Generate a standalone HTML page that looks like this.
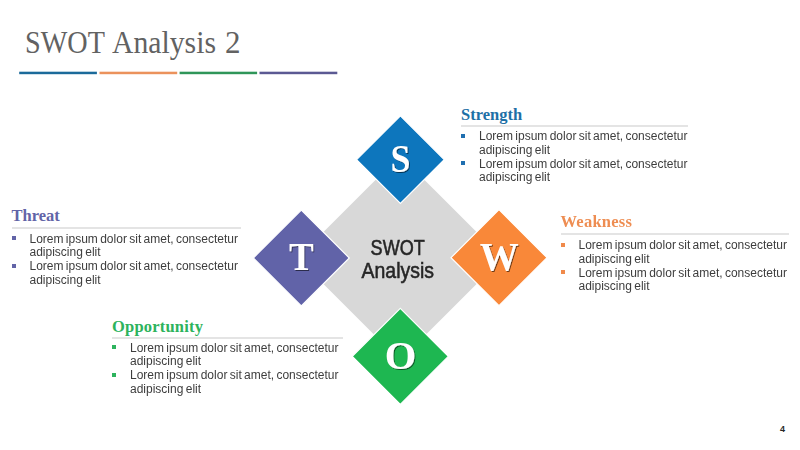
<!DOCTYPE html>
<html><head><meta charset="utf-8">
<style>
*{margin:0;padding:0;box-sizing:border-box}
html,body{width:800px;height:450px;overflow:hidden;background:#fff}
body{position:relative;font-family:"Liberation Sans",sans-serif}
.title span{position:absolute;top:23px;font-family:"Liberation Serif",serif;font-size:32px;color:#626262;white-space:nowrap;line-height:38px;transform-origin:0 0}
.bar{position:absolute;top:71.8px;height:2.4px;width:77.7px}
.blk{position:absolute;top:0;left:0}
.blk h3{position:absolute;left:0;font-family:"Liberation Serif",serif;font-weight:bold;font-size:16.5px;line-height:20px;white-space:nowrap}
.blk .rule{position:absolute;left:0;height:2px;background:#e4e4e4}
.blk ul{position:absolute;left:0;width:240px;list-style:none}
.blk li{position:relative;padding-left:18px;font-size:12px;line-height:13.8px;color:#3d3d3d;word-spacing:-1px}
.blk li:before{content:"";position:absolute;left:0;top:3.5px;width:4px;height:4px;background:var(--c)}
svg{position:absolute;left:0;top:0}
.num{position:absolute;left:780px;top:423.5px;font-size:9px;font-weight:bold;color:#262626}
</style></head><body>
<div class="title"><span style="left:24.8px;transform:scaleX(0.881)">SWOT</span><span style="left:112.2px;transform:scaleX(0.928)">Analysis</span><span style="left:225px;transform:scaleX(0.97)">2</span></div>
<svg width="800" height="80" viewBox="0 0 800 80" style="position:absolute;left:0;top:0">
<rect x="19.2" y="71.7" width="77.7" height="2.5" fill="#1B6A9A"/>
<rect x="99.5" y="71.7" width="77.7" height="2.5" fill="#EB925C"/>
<rect x="179.6" y="71.7" width="77.5" height="2.5" fill="#2F9659"/>
<rect x="259.5" y="71.7" width="77.8" height="2.5" fill="#5B5993"/>
</svg>

<svg width="800" height="450" viewBox="0 0 800 450">
  <defs>
    <filter id="sh" x="-30%" y="-30%" width="160%" height="160%">
      <feDropShadow dx="1" dy="1" stdDeviation="0.6" flood-color="#000" flood-opacity="0.55"/>
    </filter>
  </defs>
  <polygon points="400,155.40 502.60,258 400,360.60 297.40,258" fill="#D8D8D8"/>
  <polygon points="400.4,115.90 444.20,159.7 400.4,203.50 356.60,159.7" fill="#0D76BD" stroke="#fff" stroke-width="1.2"/>
  <polygon points="301.3,210.00 349.30,258 301.3,306.00 253.30,258" fill="#6163A8" stroke="#fff" stroke-width="1.2"/>
  <polygon points="499,209.70 547.00,257.7 499,305.70 451.00,257.7" fill="#F98839" stroke="#fff" stroke-width="1.2"/>
  <polygon points="400.3,308.30 448.30,356.3 400.3,404.30 352.30,356.3" fill="#1EB751" stroke="#fff" stroke-width="1.2"/>
  <g font-family="Liberation Serif" font-weight="bold" fill="#fff" text-anchor="middle" filter="url(#sh)" font-size="39">
    <text transform="translate(400.6 171.5) scale(0.92 1)">S</text>
    <text transform="translate(301.4 269.5) scale(0.95 1.03)">T</text>
    <text transform="translate(499.2 270.1) scale(1.0 1)">W</text>
    <text transform="translate(400.5 369.1) scale(1.04 1.03)">O</text>
  </g>
  <g font-family="Liberation Sans" fill="#262626" stroke="#262626" stroke-width="0.55" text-anchor="middle" font-size="21.5">
    <text transform="translate(397.7 254.7) scale(0.84 1)">SWOT</text>
    <text transform="translate(397.8 278) scale(0.905 1)">Analysis</text>
  </g>
</svg>

<div class="blk" style="left:461px;--c:#1F6FB0">
  <h3 style="top:104.5px;color:#1E70A6">Strength</h3>
  <div class="rule" style="top:125px;width:227px"></div>
  <ul style="top:130px"><li>Lorem ipsum dolor sit amet, consectetur adipiscing elit</li><li>Lorem ipsum dolor sit amet, consectetur adipiscing elit</li></ul>
</div>
<div class="blk" style="left:11.5px;--c:#6264A7">
  <h3 style="top:206px;color:#6264A7">Threat</h3>
  <div class="rule" style="top:227px;width:229px"></div>
  <ul style="top:232.7px"><li>Lorem ipsum dolor sit amet, consectetur adipiscing elit</li><li>Lorem ipsum dolor sit amet, consectetur adipiscing elit</li></ul>
</div>
<div class="blk" style="left:560.5px;--c:#F08A4B">
  <h3 style="top:211.5px;color:#EE8D52;letter-spacing:0.25px">Weakness</h3>
  <div class="rule" style="top:233px;width:228px"></div>
  <ul style="top:239px"><li>Lorem ipsum dolor sit amet, consectetur adipiscing elit</li><li>Lorem ipsum dolor sit amet, consectetur adipiscing elit</li></ul>
</div>
<div class="blk" style="left:112px;--c:#2DB35D">
  <h3 style="top:316.5px;color:#2DB35D;letter-spacing:0.2px">Opportunity</h3>
  <div class="rule" style="top:337px;width:231px"></div>
  <ul style="top:341.5px"><li>Lorem ipsum dolor sit amet, consectetur adipiscing elit</li><li>Lorem ipsum dolor sit amet, consectetur adipiscing elit</li></ul>
</div>
<div class="num">4</div>
</body></html>
